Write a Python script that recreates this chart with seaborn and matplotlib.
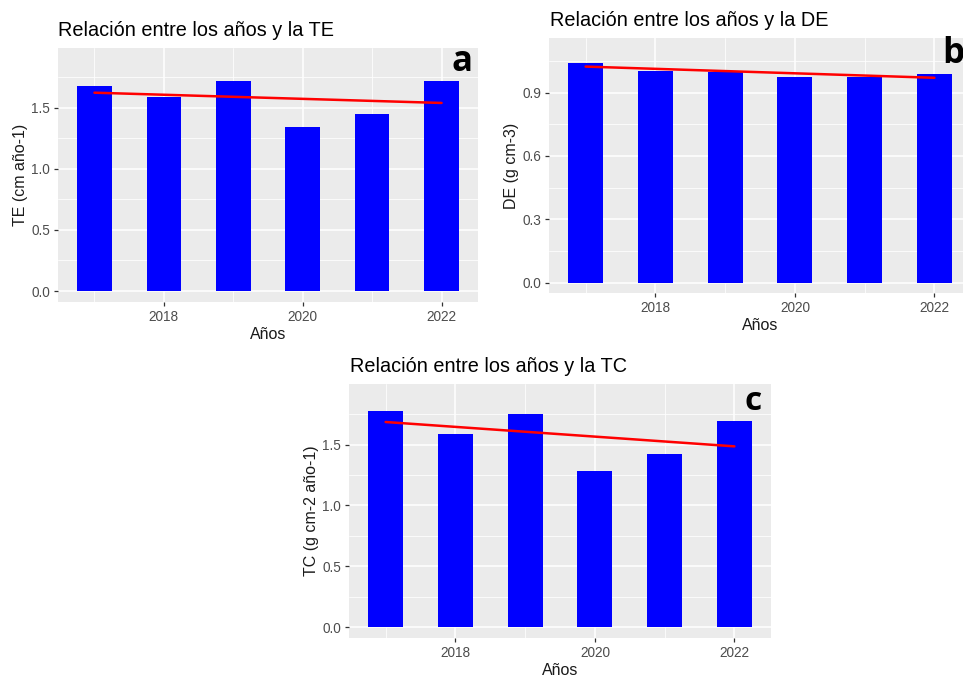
import matplotlib
matplotlib.use("Agg")
import matplotlib.pyplot as plt
import numpy as np
import pandas as pd
import seaborn as sns
from matplotlib.ticker import FixedLocator

# Years and yearly measurements
years = [2017, 2018, 2019, 2020, 2021, 2022]
te_values = [1.68, 1.585, 1.717, 1.34, 1.453, 1.717]      # TE (cm año-1)
de_values = [1.042, 1.001, 0.998, 0.973, 0.974, 0.989]    # DE (g cm-3)
tc_values = [1.778, 1.587, 1.751, 1.286, 1.420, 1.691]    # TC (g cm-2 año-1)

x_major = [2018, 2020, 2022]
x_minor = [2017, 2019, 2021]

sns.set_theme(style="darkgrid", rc={
    "axes.facecolor": "#EBEBEB",
    "figure.facecolor": "white",
    "grid.color": "white",
    "axes.edgecolor": "#EBEBEB",
})
plt.rcParams["font.family"] = ["Liberation Sans", "DejaVu Sans"]

W, H = 963, 679
fig = plt.figure(figsize=(W / 100, H / 100), dpi=100)


def box(l, t, r, b):
    return [l / W, 1 - b / H, (r - l) / W, (b - t) / H]


panels = [
    dict(rect=box(58, 48, 478, 302), vals=te_values, ylabel="TE (cm año-1)",
         title="Relación entre los años y la TE", ylim=(-0.09, 1.99),
         yticks=[0.0, 0.5, 1.0, 1.5], yminor=[0.25, 0.75, 1.25, 1.75],
         tpos=(58, 30), letter="a", lpos=(462, 62), lsize=25),
    dict(rect=box(549, 38, 971, 293), vals=de_values, ylabel="DE (g cm-3)",
         title="Relación entre los años y la DE", ylim=(-0.049, 1.158),
         yticks=[0.0, 0.3, 0.6, 0.9], yminor=[0.15, 0.45, 0.75, 1.05],
         tpos=(550, 20), letter="b", lpos=(953, 54), lsize=25),
    dict(rect=box(349, 384, 771, 638), vals=tc_values, ylabel="TC (g cm-2 año-1)",
         title="Relación entre los años y la TC", ylim=(-0.09, 1.998),
         yticks=[0.0, 0.5, 1.0, 1.5], yminor=[0.25, 0.75, 1.25, 1.75],
         tpos=(350, 366), letter="c", lpos=(753, 401), lsize=24),
]

for p in panels:
    ax = fig.add_axes(p["rect"])
    df = pd.DataFrame({"Años": years, "valor": p["vals"]})
    sns.barplot(data=df, x="Años", y="valor", native_scale=True, width=0.5,
                color="#0000FF", saturation=1, edgecolor="none", ax=ax)
    sns.regplot(data=df, x="Años", y="valor", scatter=False, ci=None,
                color="#FF0000", line_kws={"lw": 1.8}, ax=ax)

    ax.set_xlim(2016.475, 2022.525)
    ax.set_ylim(*p["ylim"])
    ax.xaxis.set_major_locator(FixedLocator(x_major))
    ax.xaxis.set_minor_locator(FixedLocator(x_minor))
    ax.yaxis.set_major_locator(FixedLocator(p["yticks"]))
    ax.yaxis.set_minor_locator(FixedLocator(p["yminor"]))
    ax.set_xticklabels([str(v) for v in x_major])
    ax.set_yticklabels([f"{v:.1f}" for v in p["yticks"]])

    ax.grid(which="major", color="white", lw=1.1)
    ax.grid(which="minor", color="white", lw=0.55)
    ax.set_axisbelow(True)
    for s in ax.spines.values():
        s.set_visible(False)
    ax.tick_params(which="major", length=3.2, width=0.9, color="#333333",
                   labelcolor="#4D4D4D", labelsize=9.8, pad=2.5,
                   bottom=True, left=True)
    ax.tick_params(which="minor", length=0)

    ax.set_xlabel("Años", fontsize=11.5, color="#1A1A1A", labelpad=2)
    ax.set_ylabel(p["ylabel"], fontsize=11.5, color="#1A1A1A", labelpad=2)

    fig.text(p["tpos"][0] / W, 1 - p["tpos"][1] / H, p["title"],
             fontsize=14.3, color="black", ha="left", va="center")
    fig.text(p["lpos"][0] / W, 1 - p["lpos"][1] / H, p["letter"],
             fontsize=p["lsize"], fontweight="bold", family="Open Sans",
             color="black", ha="center", va="center")

fig.savefig("out.png", dpi=100)
